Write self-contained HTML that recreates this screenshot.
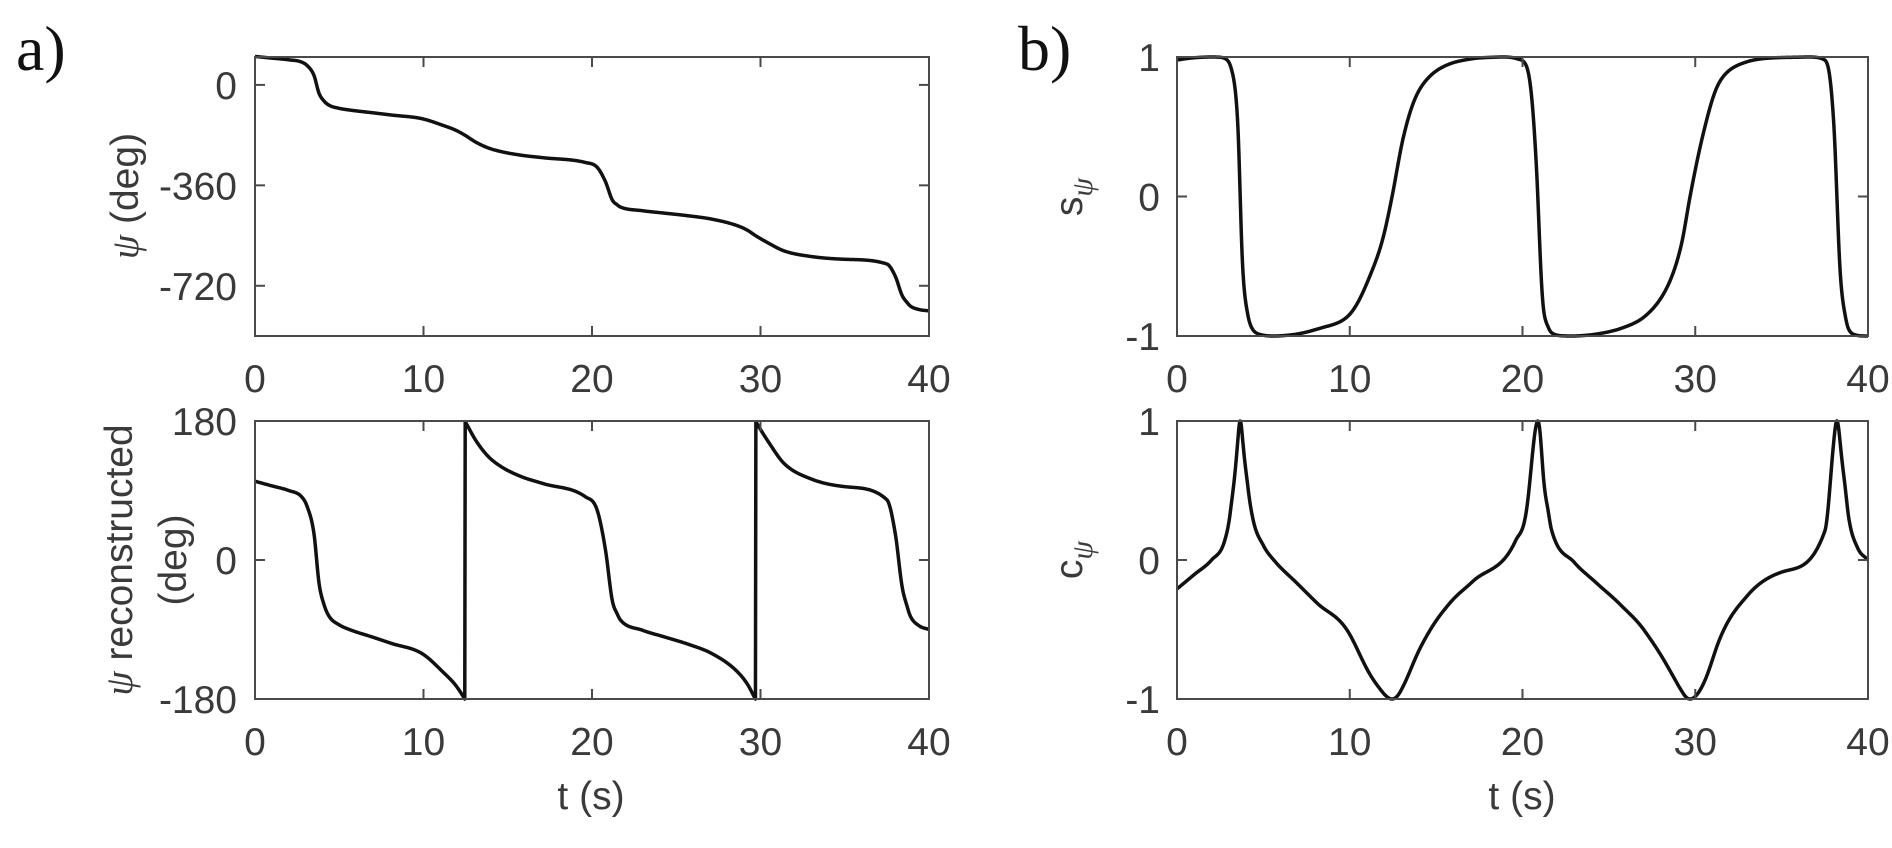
<!DOCTYPE html>
<html><head><meta charset="utf-8"><style>
html,body{margin:0;padding:0;background:#fff;}
svg{display:block;}
text{font-family:"Liberation Sans",sans-serif;fill:#3a3a3a;}
.tk{font-size:39px;}
.lbl{font-size:39px;}
.pl{font-family:"Liberation Serif",serif;font-size:64px;fill:#111;}
.psi{font-family:"Liberation Serif",serif;font-style:italic;}
</style></head><body>
<svg id="fig" width="1892" height="848" viewBox="0 0 1892 848" xmlns="http://www.w3.org/2000/svg">
<text class="pl" x="16" y="70">a)</text>
<text class="pl" x="1018" y="70">b)</text>
<text class="lbl" transform="translate(138,196) rotate(-90)" text-anchor="middle"><tspan class="psi">ψ</tspan> (deg)</text>
<text class="lbl" transform="translate(132,560) rotate(-90)" text-anchor="middle"><tspan class="psi">ψ</tspan> reconstructed</text>
<text class="lbl" transform="translate(186,560) rotate(-90)" text-anchor="middle">(deg)</text>
<text class="lbl" transform="translate(1082,197) rotate(-90)" text-anchor="middle">s<tspan class="psi" font-size="30" dy="10">ψ</tspan></text>
<text class="lbl" transform="translate(1082,560) rotate(-90)" text-anchor="middle">c<tspan class="psi" font-size="30" dy="10">ψ</tspan></text>
<text class="lbl" x="591" y="809" text-anchor="middle">t (s)</text>
<text class="lbl" x="1522" y="809" text-anchor="middle">t (s)</text>
</svg>
<script>
// data (time in s, unwrapped heading in deg)
const times = [0,1,2,2.76,3.1,3.5,3.8,4.1,4.4,5,5.6,7,8.1,9.9,11.2,11.9,12.45,13.1,13.8,14.6,15.8,17.1,19.6,20.3,20.8,21.2,21.5,21.7,23,24.2,25.7,27.1,28.5,29.2,29.7,30.5,31.4,33,35,37.5,38,38.4,38.7,38.9,39.4,40];
const psiDeg = [102,96,90,82,69,34,-30,-58,-73,-84,-90,-100,-108,-121,-146,-162,-180,-205,-225,-239,-252,-261,-278,-295,-347,-412,-430,-438,-451,-459,-469,-481,-502,-520,-540,-568,-595,-615,-625,-642,-686,-754,-780,-793,-805,-810];
const xTicks = [0,10,20,30,40];
const psiTicks = [0,-360,-720];
const wrapTicks = [180,0,-180];
const unitTicks = [1,0,-1];

const NS="http://www.w3.org/2000/svg";
const svg=document.getElementById('fig');
function mk(tag,attrs){const e=document.createElementNS(NS,tag);for(const k in attrs)e.setAttribute(k,attrs[k]);svg.appendChild(e);return e;}

// monotone cubic (Fritsch-Carlson) resampling of the unwrapped heading
const n=times.length;
const dk=[],mk2=new Array(n);
for(let i=0;i<n-1;i++)dk.push((psiDeg[i+1]-psiDeg[i])/(times[i+1]-times[i]));
mk2[0]=dk[0];mk2[n-1]=dk[n-2];
for(let i=1;i<n-1;i++){mk2[i]=(dk[i-1]*dk[i]<=0)?0:(dk[i-1]+dk[i])/2;}
for(let i=0;i<n-1;i++){
  if(dk[i]===0){mk2[i]=0;mk2[i+1]=0;continue;}
  const a=mk2[i]/dk[i],b=mk2[i+1]/dk[i];const s=a*a+b*b;
  if(s>9){const tau=3/Math.sqrt(s);mk2[i]=tau*a*dk[i];mk2[i+1]=tau*b*dk[i];}
}
function interp(t){
  let i=0;while(i<n-2&&times[i+1]<t)i++;
  const h=times[i+1]-times[i];const u=(t-times[i])/h;
  const h00=2*u*u*u-3*u*u+1,h10=u*u*u-2*u*u+u,h01=-2*u*u*u+3*u*u,h11=u*u*u-u*u;
  return h00*psiDeg[i]+h10*h*mk2[i]+h01*psiDeg[i+1]+h11*h*mk2[i+1];
}
const ts=[],unwrapped=[];
for(let k=0;k<=1600;k++){const t=k*40/1600;ts.push(t);unwrapped.push(interp(t));}
const wrapped=unwrapped.map(v=>((v+180)%360+360)%360-180);
const sPsi=unwrapped.map(v=>Math.sin(v*Math.PI/180));
const cPsi=unwrapped.map(v=>Math.cos(v*Math.PI/180));

function panel(name,x0,x1,y0,y1,ymin,ymax,yt,ylabels,vals,labX){
  const sx=t=>x0+(t-0)/(40-0)*(x1-x0);
  const sy=v=>y1-(v-ymin)/(ymax-ymin)*(y1-y0);
  let d='';
  for(let i=0;i<ts.length;i++){d+=(i?'L':'M')+sx(ts[i]).toFixed(2)+' '+sy(vals[i]).toFixed(2);}
  const ln=mk('path',{d:d,fill:'none',stroke:'#111','stroke-width':3.5,'stroke-linejoin':'round'});
  
  
  const bx=mk('rect',{x:x0,y:y0,width:x1-x0,height:y1-y0,fill:'none',stroke:'#4a4a4a','stroke-width':2});
  
  
  xTicks.forEach(t=>{
    const X=sx(t);
    mk('line',{x1:X,x2:X,y1:y1,y2:y1-10,stroke:'#4a4a4a','stroke-width':2});
    mk('line',{x1:X,x2:X,y1:y0,y2:y0+10,stroke:'#4a4a4a','stroke-width':2});
    const tx=mk('text',{x:X,y:y1+56,'text-anchor':'middle',class:'tk'});
    tx.textContent=t;
    
    
  });
  yt.forEach((v,i)=>{
    const Y=sy(v);
    mk('line',{x1:x0,x2:x0+10,y1:Y,y2:Y,stroke:'#4a4a4a','stroke-width':2});
    mk('line',{x1:x1,x2:x1-10,y1:Y,y2:Y,stroke:'#4a4a4a','stroke-width':2});
    const tx=mk('text',{x:labX,y:Y+14,'text-anchor':'end',class:'tk'});
    tx.textContent=ylabels[i];
    
    
  });
}
panel('psi-panel',255,929,57,336,-900,100,psiTicks,psiTicks.map(String),unwrapped,237);
panel('psi-reconstructed-panel',255,929,421,699,-180,180,wrapTicks,wrapTicks.map(String),wrapped,237);
panel('s-psi-panel',1177,1868,57,336,-1,1,unitTicks,unitTicks.map(String),sPsi,1160);
panel('c-psi-panel',1177,1868,421,699,-1,1,unitTicks,unitTicks.map(String),cPsi,1160);
</script>
</body></html>
